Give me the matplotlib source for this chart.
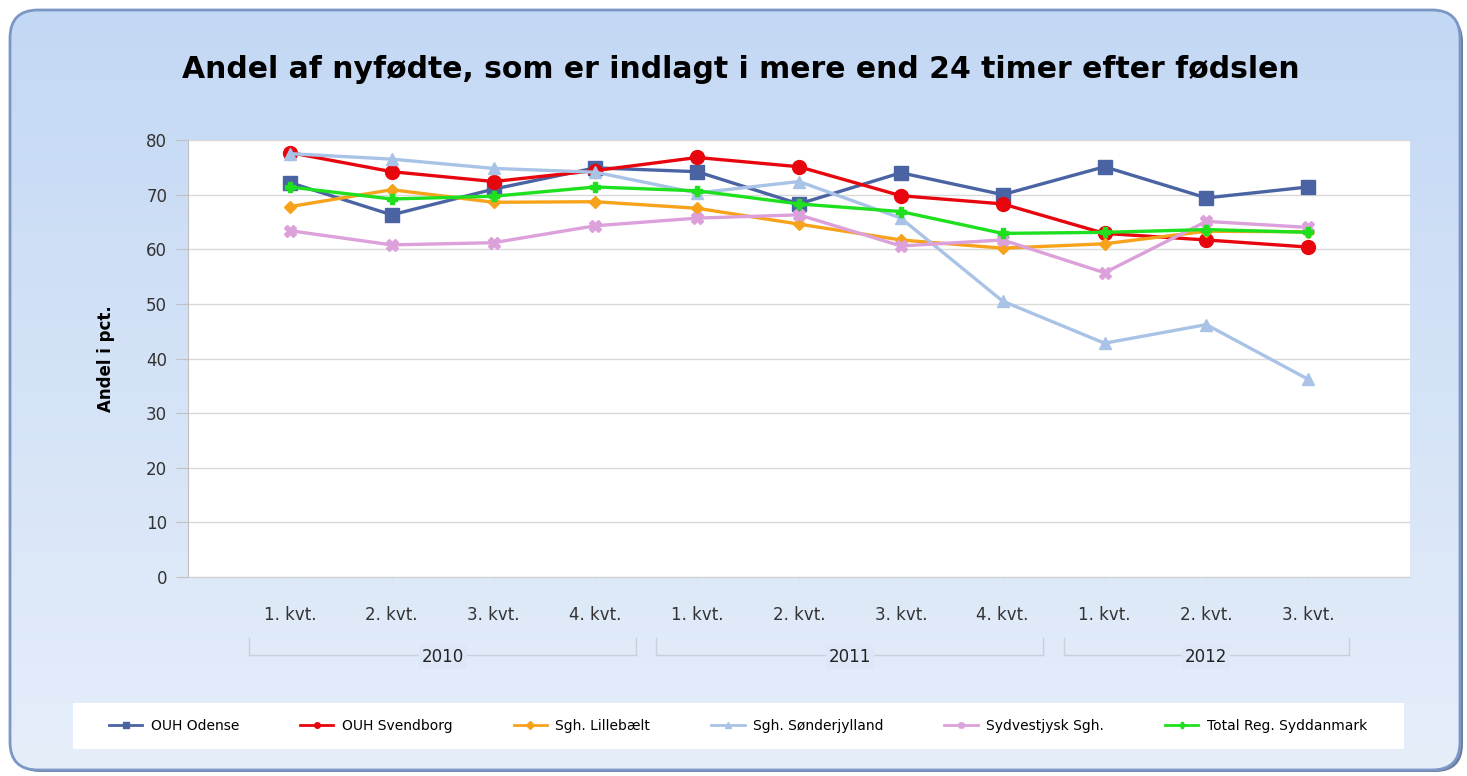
import numpy as np
import matplotlib
matplotlib.use("Agg")
import matplotlib.pyplot as plt
from matplotlib.patches import FancyBboxPatch, Rectangle
from matplotlib.lines import Line2D
from matplotlib.colors import LinearSegmentedColormap
import matplotlib.transforms as mtransforms

# Data
quarters = ['1. kvt.', '2. kvt.', '3. kvt.', '4. kvt.',
            '1. kvt.', '2. kvt.', '3. kvt.', '4. kvt.',
            '1. kvt.', '2. kvt.', '3. kvt.']
years = ['2010', '2011', '2012']
year_quarters = [4, 4, 3]

odense = [72.2, 66.3, 71.0, 74.9, 74.2, 68.3, 74.0, 70.0, 75.1, 69.4, 71.4]
svendborg = [77.7, 74.2, 72.4, 74.4, 76.8, 75.1, 69.8, 68.3, 62.9, 61.7, 60.4]
lillebaelt = [67.8, 70.9, 68.6, 68.7, 67.5, 64.6, 61.7, 60.2, 61.0, 63.3, 63.2]
soenderjylland = [77.5, 76.5, 74.8, 74.1, 70.3, 72.4, 65.7, 50.5, 42.8, 46.2, 36.2]
sydvestjysk = [63.4, 60.8, 61.2, 64.3, 65.7, 66.3, 60.6, 61.7, 55.7, 65.1, 64.0]
total = [71.4, 69.2, 69.7, 71.4, 70.7, 68.3, 66.9, 62.9, 63.1, 63.6, 63.1]

series = [
    ('OUH Odense', odense, '#4A64A3', 's', 10),
    ('OUH Svendborg', svendborg, '#E8060E', 'o', 10),
    ('Sgh. Lillebælt', lillebaelt, '#F7A21B', 'D', 6),
    ('Sgh. Sønderjylland', soenderjylland, '#A9C3E6', '^', 9),
    ('Sydvestjysk Sgh.', sydvestjysk, '#DCA0DA', 'X', 8),
    ('Total Reg. Syddanmark', total, '#1EE01E', 'P', 7),
]

W, H = 1467, 776
fig = plt.figure(figsize=(W / 100, H / 100), dpi=100)

# background panel with rounded corners and soft gradient
bg = fig.add_axes([0, 0, 1, 1])
bg.set_xlim(0, W)
bg.set_ylim(H, 0)
bg.axis('off')
shadow = FancyBboxPatch((13, 14), 1450, 758, boxstyle='round,pad=0,rounding_size=28',
                        facecolor='#6A7C9C', edgecolor='none', zorder=0)
bg.add_patch(shadow)
cmap = LinearSegmentedColormap.from_list('bg', ['#C3D8F4', '#E6EEFA'])
grad = np.linspace(0, 1, 256).reshape(-1, 1)
im = bg.imshow(grad, extent=(10, 1460, 770, 10), aspect='auto', cmap=cmap, zorder=1)
clip = FancyBboxPatch((10, 10), 1450, 760, boxstyle='round,pad=0,rounding_size=28',
                      transform=bg.transData, facecolor='none', edgecolor='none')
bg.add_patch(clip)
im.set_clip_path(clip)
border = FancyBboxPatch((10, 10), 1450, 760, boxstyle='round,pad=0,rounding_size=28',
                        facecolor='none', edgecolor='#7C96C6', lw=2, zorder=2)
bg.add_patch(border)
# legend box
bg.add_patch(Rectangle((73, 703), 1331, 46, facecolor='white', edgecolor='none', zorder=3))

fig.text(741 / W, 1 - 70 / H, 'Andel af nyfødte, som er indlagt i mere end 24 timer efter fødslen',
         ha='center', va='center', fontsize=21.5, fontweight='bold', color='black')

ax = fig.add_axes([188 / W, 1 - 577 / H, (1410 - 188) / W, (577 - 140) / H])
x = np.arange(len(quarters))
for name, vals, color, marker, ms in series:
    ax.plot(x, vals, color=color, lw=2.4, marker=marker, markersize=ms,
            markeredgecolor=color, label=name)

ax.set_xlim(-1, len(quarters))
ax.set_ylim(0, 80)
ax.set_yticks(range(0, 81, 10))
ax.set_xticks(x)
ax.set_xticklabels(quarters)
ax.yaxis.grid(True, color='#D9D9D9', lw=1)
ax.set_axisbelow(True)
ax.tick_params(axis='y', length=9, color='#C0C0C0', pad=6, labelsize=12, labelcolor='#333333')
ax.tick_params(axis='x', length=6, color='#DDE4EE', pad=15, labelsize=12, labelcolor='#333333')
for s in ['top', 'right']:
    ax.spines[s].set_visible(False)
ax.spines['left'].set_color('#C0C0C0')
ax.spines['bottom'].set_color('#D0D0D0')
ax.set_ylabel('Andel i pct.', fontsize=12, fontweight='bold', labelpad=22)

# year brackets under the quarter labels
trans = mtransforms.blended_transform_factory(ax.transData, ax.transAxes)
start = 0
line_y, tick_y, text_y = -0.1785, -0.1396, -0.183
for year, n in zip(years, year_quarters):
    x0, x1 = start - 0.4, start + n - 1 + 0.4
    ax.plot([x0, x1], [line_y, line_y], color='#C8D0DC', lw=1, transform=trans, clip_on=False)
    ax.plot([x0, x0], [tick_y, line_y], color='#C8D0DC', lw=1, transform=trans, clip_on=False)
    ax.plot([x1, x1], [tick_y, line_y], color='#C8D0DC', lw=1, transform=trans, clip_on=False)
    ax.text((x0 + x1) / 2, text_y, year, transform=trans, ha='center', va='center',
            fontsize=12, color='#222222',
            bbox=dict(facecolor='#DDE7F8', edgecolor='none', pad=2))
    start += n

handles = [Line2D([], [], color=c, marker=m, markersize=4, lw=2) for _, _, c, m, _ in series]
labels = [s[0] for s in series]
leg = fig.legend(handles, labels, loc='center', bbox_to_anchor=(738 / W, 1 - 726 / H),
                 ncol=6, frameon=False, fontsize=10, columnspacing=4.4, handlelength=2.4,
                 handletextpad=0.6)
leg.set_zorder(5)

fig.savefig('out.png', dpi=100)
